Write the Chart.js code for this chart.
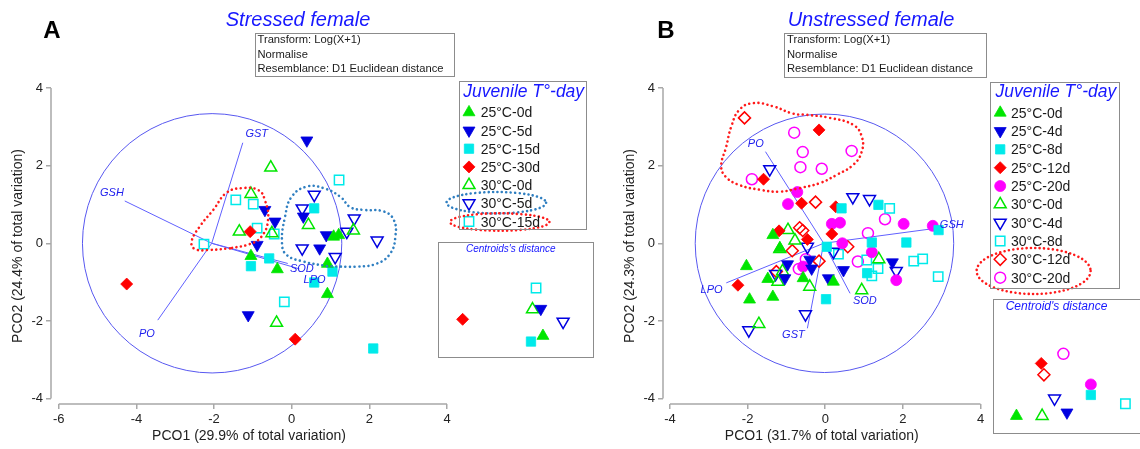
<!DOCTYPE html>
<html>
<head>
<meta charset="utf-8">
<script src="https://cdn.jsdelivr.net/npm/chart.js@4.4.1/dist/chart.umd.min.js"></script>
<style>
  body { margin: 0; background: #fff; }
  #page { position: relative; width: 1140px; height: 449px; overflow: hidden;
          font-family: "Liberation Sans", Arial, sans-serif; }
  canvas, .t, .box { position: absolute; }
  .t { white-space: nowrap; line-height: 1; color: #1a1a1a; }
  .c { transform: translate(-50%, -50%); }
  .l { transform: translateY(-50%); }
  .box { border: 1.5px solid #8c8c8c; box-sizing: border-box; }
  .blue { color: #1717ff; font-style: italic; }
</style>
</head>
<body>
<div id="page">
  <canvas id="chartA" width="600" height="449" style="left:0;top:0"></canvas>
  <canvas id="chartB" width="540" height="449" style="left:600px;top:0"></canvas>

  <div class="box" style="left:255px;top:33px;width:200px;height:44px"></div>
  <div class="box" style="left:784px;top:33px;width:203px;height:45px"></div>
  <div class="box" style="left:459px;top:81px;width:128px;height:149px"></div>
  <div class="box" style="left:990px;top:82px;width:130px;height:207px"></div>
  <div class="box" style="left:438px;top:242px;width:156px;height:116px"></div>
  <div class="box" style="left:993px;top:299px;width:160px;height:135px"></div>

  <canvas id="insetA" width="156" height="116" style="left:438px;top:242px"></canvas>
  <canvas id="insetB" width="147" height="135" style="left:993px;top:299px"></canvas>
</div>
<script>
// ---- axes ----
const xTicksA = [-6, -4, -2, 0, 2, 4];
const xTicksB = [-4, -2, 0, 2, 4];
const yTicks = [-4, -2, 0, 2, 4];

// ---- panel A: stressed female ----
const groupsA = ["25°C-0d", "25°C-5d", "25°C-15d", "25°C-30d", "30°C-0d", "30°C-5d", "30°C-15d"];
const a25c0d = [[-1.05, -0.33], [-0.37, -0.67], [1.08, 0.17], [1.21, 0.21], [0.92, -0.53], [0.92, -1.31]];
const a25c5d = [[-0.69, 0.86], [-0.43, 0.56], [-0.89, -0.04], [-1.12, -1.85], [0.39, 2.65], [0.30, 0.69], [0.89, 0.21], [0.72, -0.13]];
const a25c15d = [[-1.05, -0.59], [-0.58, -0.39], [0.58, 0.90], [1.05, -0.73], [0.58, -1.01], [2.10, -2.71]];
const a25c30d = [[-1.07, 0.30], [-4.25, -1.05], [0.09, -2.47]];
const a30c0d = [[-0.54, 1.95], [-1.05, 1.27], [-1.35, 0.30], [-0.51, 0.26], [0.43, 0.47], [1.59, 0.33], [-0.39, -2.05]];
const a30c5d = [[0.58, 1.25], [0.27, 0.90], [1.61, 0.64], [1.42, 0.30], [2.20, 0.07], [0.27, -0.13], [1.12, -0.35]];
const a30c15d = [[-1.44, 1.12], [-0.99, 1.01], [-0.89, 0.39], [-0.45, 0.24], [-2.26, -0.02], [1.22, 1.63], [-0.19, -1.51]];

const vecNamesA = ["GSH", "GST", "PO", "SOD", "LPO"];
const vecEndA = [[-4.30, 1.09], [-1.26, 2.59], [-3.45, -1.98], [-0.10, -0.52], [0.20, -0.66]];
const vecLabelA = [[-4.63, 1.30], [-0.90, 2.81], [-3.73, -2.34], [0.26, -0.66], [0.59, -0.95]];
const vecOriginA = [-2.06, 0];
const circleA = [-2.05, 0, 3.34]; // centre x, centre y, radius

const hullA15 = [[-1.59, -0.13], [-2.11, -0.17], [-2.49, -0.15], [-2.58, 0.04], [-2.37, 0.43], [-2.02, 0.86],
  [-1.68, 1.30], [-1.29, 1.42], [-0.86, 1.37], [-0.69, 1.11], [-0.61, 0.60], [-0.78, 0.17], [-1.08, -0.02]];
const hullA5 = [[0.91, -0.59], [0.30, -0.47], [-0.13, -0.30], [-0.25, 0.0], [-0.17, 0.69], [0.00, 1.20], [0.39, 1.46],
  [0.82, 1.42], [1.25, 1.20], [1.51, 0.93], [1.85, 0.86], [2.37, 0.82], [2.63, 0.60], [2.67, 0.17], [2.54, -0.26],
  [2.20, -0.52], [1.68, -0.60]];

const centAx = [10.82, 10.58, 9.48, 1.82, 9.65, 13.08, 10.05];
const centAy = [1.60, 4.77, 0.94, 3.54, 4.70, 3.27, 7.20];

// ---- panel B: unstressed female ----
const groupsB = ["25°C-0d", "25°C-4d", "25°C-8d", "25°C-12d", "25°C-20d", "30°C-0d", "30°C-4d", "30°C-8d", "30°C-12d", "30°C-20d"];
const b25c0d = [[-1.35, 0.21], [-1.17, -0.13], [-1.48, -0.92], [-0.57, -0.90], [0.21, -0.99], [-2.03, -0.59], [-1.95, -1.45], [-1.35, -1.38]];
const b25c4d = [[-0.97, -0.54], [-1.04, -0.90], [-0.35, -0.65], [-0.40, -0.42], [0.08, -0.90], [0.47, -0.69], [1.73, -0.49]];
const b25c8d = [[0.42, 0.90], [1.37, 0.99], [2.92, 0.34], [1.20, 0.02], [2.09, 0.02], [0.04, -0.09], [1.08, -0.77], [0.02, -1.44]];
const b25c12d = [[-0.16, 2.92], [-1.59, 1.65], [-0.61, 1.03], [0.27, 0.94], [0.17, 0.24], [-1.19, 0.32], [-0.46, 0.10], [-2.25, -1.08]];
const b25c20d = [[-0.72, 1.32], [-0.96, 1.01], [0.17, 0.50], [0.38, 0.53], [2.02, 0.50], [2.77, 0.45], [0.44, 0.0], [1.20, -0.23], [-0.57, -0.60], [1.83, -0.95]];
const b30c0d = [[-0.96, 0.34], [-0.78, 0.07], [-1.17, -0.15], [-1.22, -0.99], [-1.10, -0.72], [-0.40, -1.12], [0.94, -1.21], [-1.71, -2.08], [1.38, -0.41]];
const b30c4d = [[-1.43, 1.91], [0.71, 1.19], [1.14, 1.14], [-0.46, -0.09], [0.21, -0.22], [-1.28, -0.79], [1.83, -0.71], [-0.51, -1.83], [-1.97, -2.24]];
const b30c8d = [[1.66, 0.90], [0.34, -0.28], [1.07, -0.43], [1.36, -0.65], [1.20, -0.84], [2.28, -0.46], [2.51, -0.40], [2.91, -0.86]];
const b30c12d = [[-2.08, 3.23], [-0.25, 1.06], [-0.66, 0.40], [-0.58, 0.33], [0.58, -0.09], [-0.85, -0.19], [-0.16, -0.46], [-1.26, -0.73]];
const b30c20d = [[-0.80, 2.85], [-0.58, 2.35], [0.68, 2.38], [-0.64, 1.96], [-0.09, 1.92], [-1.89, 1.65], [1.54, 0.62], [1.10, 0.26], [0.84, -0.47], [-0.50, -0.41], [-0.68, -0.66]];

const vecNamesB = ["PO", "GSH", "LPO", "GST", "SOD"];
const vecEndB = [[-1.54, 2.36], [2.88, 0.39], [-2.55, -1.02], [-0.46, -2.19], [0.64, -1.29]];
const vecLabelB = [[-1.79, 2.57], [3.26, 0.47], [-2.93, -1.20], [-0.82, -2.36], [1.02, -1.49]];
const vecOriginB = [-0.04, 0];
const circleB = [-0.02, 0, 3.33];

const hullB = [[-0.65, 1.42], [-1.17, 1.33], [-1.69, 1.38], [-2.21, 1.50], [-2.55, 1.70], [-2.68, 1.98], [-2.55, 2.49],
  [-2.42, 3.01], [-2.21, 3.44], [-1.86, 3.61], [-1.35, 3.53], [-0.83, 3.34], [-0.48, 3.31], [0.12, 3.23], [0.72, 3.05],
  [0.94, 2.75], [0.94, 2.36], [0.72, 2.02], [0.29, 1.76], [-0.14, 1.55]];

const centBx = [1.7, 7.4, 10.1, 4.5, 10.1, 4.6, 6.0, 14.0, 4.8, 7.0];
const centBy = [1.1, 1.5, 3.5, 7.1, 4.7, 1.1, 3.1, 2.5, 5.8, 8.2];

// ---- styles ----
Chart.defaults.font.family = '"Liberation Sans", Arial, sans-serif';
Chart.defaults.color = "#222";

const GREEN = "#00e600", BLUE = "#0000e0", CYAN = "#00eaea", RED = "#ff0000", MAGENTA = "#ff00ff";
const AXIS = "#a8a8a8", VEC = "#6060ff", LABEL = "#2020ee";
const SIZE = { triangle: 6.9, rect: 6.6, rectRot: 6.0, circle: 5.5 };

const mk = (shape, rot, color, filled) => ({ shape, rot, color, filled });
const marksA = [
  mk("triangle", 0, GREEN, true), mk("triangle", 180, BLUE, true), mk("rect", 0, CYAN, true), mk("rectRot", 0, RED, true),
  mk("triangle", 0, GREEN, false), mk("triangle", 180, BLUE, false), mk("rect", 0, CYAN, false)
];
const marksB = [
  mk("triangle", 0, GREEN, true), mk("triangle", 180, BLUE, true), mk("rect", 0, CYAN, true), mk("rectRot", 0, RED, true),
  mk("circle", 0, MAGENTA, true), mk("triangle", 0, GREEN, false), mk("triangle", 180, BLUE, false), mk("rect", 0, CYAN, false),
  mk("rectRot", 0, RED, false), mk("circle", 0, MAGENTA, false)
];

function pointDataset(label, pts, m) {
  return {
    label,
    data: pts.map(p => ({ x: p[0], y: p[1] })),
    pointStyle: m.shape,
    pointRotation: m.rot,
    pointRadius: SIZE[m.shape],
    pointBackgroundColor: m.filled ? m.color : "rgba(0,0,0,0)",
    pointBorderColor: m.color,
    pointBorderWidth: m.filled ? 0.8 : 1.5,
    showLine: false,
    clip: false,
    order: 1
  };
}

function vectorDatasets(origin, ends) {
  return ends.map(e => ({
    data: [{ x: origin[0], y: origin[1] }, { x: e[0], y: e[1] }],
    showLine: true, pointRadius: 0, borderColor: VEC, borderWidth: 1, order: 2, clip: false
  }));
}

function hullDataset(pts, color) {
  return {
    data: pts.concat([pts[0]]).map(p => ({ x: p[0], y: p[1] })),
    showLine: true, pointRadius: 0, borderColor: color, borderWidth: 2.6,
    borderDash: [0.01, 4.6], borderCapStyle: "round", tension: 0.45, order: 0, clip: false
  };
}

function drawMark(ctx, m, x, y) {
  ctx.save();
  ctx.fillStyle = m.filled ? m.color : "rgba(0,0,0,0)";
  ctx.strokeStyle = m.color;
  ctx.lineWidth = m.filled ? 0.8 : 1.5;
  Chart.helpers.drawPoint(ctx, { pointStyle: m.shape, rotation: m.rot, radius: SIZE[m.shape], borderWidth: ctx.lineWidth }, x, y);
  ctx.restore();
}

function dottedEllipse(ctx, cx, cy, rx, ry, color) {
  ctx.save();
  ctx.strokeStyle = color;
  ctx.lineWidth = 2.6;
  ctx.lineCap = "round";
  ctx.setLineDash([0.01, 4.4]);
  ctx.beginPath();
  ctx.ellipse(cx, cy, rx, ry, 0, 0, Math.PI * 2);
  ctx.stroke();
  ctx.restore();
}

function extras(cfg) {
  return {
    id: "pcoExtras",
    beforeDatasetsDraw(chart) {
      const { ctx, chartArea, scales: { x, y } } = chart;
      ctx.save();
      ctx.strokeStyle = AXIS;
      ctx.lineWidth = 1.5;
      ctx.beginPath();
      ctx.moveTo(chartArea.left, y.getPixelForValue(yTicks[yTicks.length - 1]));
      ctx.lineTo(chartArea.left, y.getPixelForValue(yTicks[0]));
      ctx.moveTo(x.getPixelForValue(cfg.xTicks[0]), chartArea.bottom);
      ctx.lineTo(x.getPixelForValue(cfg.xTicks[cfg.xTicks.length - 1]), chartArea.bottom);
      ctx.stroke();
      const cx = x.getPixelForValue(cfg.circle[0]);
      const cy = y.getPixelForValue(cfg.circle[1]);
      const r = x.getPixelForValue(cfg.circle[0] + cfg.circle[2]) - cx;
      ctx.strokeStyle = "#5858f0";
      ctx.lineWidth = 1;
      ctx.beginPath();
      ctx.arc(cx, cy, r, 0, Math.PI * 2);
      ctx.stroke();
      ctx.restore();
    },
    afterDatasetsDraw(chart) {
      const { ctx, scales: { x, y } } = chart;
      ctx.save();
      ctx.fillStyle = LABEL;
      ctx.font = "italic 11px 'Liberation Sans', Arial, sans-serif";
      ctx.textAlign = "center";
      ctx.textBaseline = "middle";
      cfg.vecNames.forEach((n, i) => {
        ctx.fillText(n, x.getPixelForValue(cfg.vecLabels[i][0]), y.getPixelForValue(cfg.vecLabels[i][1]));
      });
      ctx.restore();
      cfg.marks.forEach((m, i) => drawMark(ctx, m, cfg.legendX, cfg.legendY + i * cfg.legendStep));
      cfg.ellipses.forEach(e => dottedEllipse(ctx, e[0], e[1], e[2], e[3], e[4]));
    }
  };
}

function axisX(min, max, ticks, title) {
  return {
    type: "linear", min, max,
    afterBuildTicks: s => { s.ticks = ticks.map(v => ({ value: v })); },
    grid: { drawOnChartArea: false, drawTicks: true, tickLength: 5, color: AXIS, lineWidth: 1.5 },
    border: { display: false },
    ticks: { font: { size: 13 }, padding: 3, color: "#222", maxRotation: 0, autoSkip: false },
    title: { display: true, text: title, font: { size: 14 }, color: "#222", padding: { top: 0, bottom: 4 } },
    afterFit: s => { s.height = 45; }
  };
}

function axisY(width, title, titlePad) {
  return {
    type: "linear", min: -4.14, max: 4,
    afterBuildTicks: s => { s.ticks = yTicks.map(v => ({ value: v })); },
    grid: { drawOnChartArea: false, drawTicks: true, tickLength: 5, color: AXIS, lineWidth: 1.5 },
    border: { display: false },
    ticks: { font: { size: 13 }, padding: 3, color: "#222", autoSkip: false },
    title: { display: true, text: title, font: { size: 14 }, color: "#222", padding: { top: titlePad, bottom: 0 } },
    afterFit: s => { s.width = width; }
  };
}

function baseOptions(padRight, xAxis, yAxis) {
  return {
    responsive: false, animation: false, events: [],
    layout: { padding: { left: 0, top: 88, right: padRight, bottom: 0 } },
    plugins: { legend: { display: false }, tooltip: { enabled: false } },
    scales: { x: xAxis, y: yAxis }
  };
}

const seriesA = [a25c0d, a25c5d, a25c15d, a25c30d, a30c0d, a30c5d, a30c15d];
const seriesB = [b25c0d, b25c4d, b25c8d, b25c12d, b25c20d, b30c0d, b30c4d, b30c8d, b30c12d, b30c20d];

new Chart(document.getElementById("chartA"), {
  type: "scatter",
  data: {
    datasets: [
      hullDataset(hullA15, "#ff1a1a"),
      hullDataset(hullA5, "#2f7fc1"),
      ...seriesA.map((s, i) => pointDataset(groupsA[i], s, marksA[i])),
      ...vectorDatasets(vecOriginA, vecEndA)
    ]
  },
  options: baseOptions(153,
    axisX(-6.2, 4, xTicksA, "PCO1 (29.9% of total variation)"),
    axisY(51, "PCO2 (24.4% of total variation)", 9.8)),
  plugins: [extras({
    xTicks: xTicksA, circle: circleA, vecNames: vecNamesA, vecLabels: vecLabelA,
    marks: marksA, legendX: 469, legendY: 112.3, legendStep: 18.2,
    ellipses: [[496.3, 202.7, 49.8, 10.7, "#2f7fc1"], [499.7, 222, 49.7, 8.7, "#ff1a1a"]]
  })]
});

new Chart(document.getElementById("chartB"), {
  type: "scatter",
  data: {
    datasets: [
      hullDataset(hullB, "#ff1a1a"),
      ...seriesB.map((s, i) => pointDataset(groupsB[i], s, marksB[i])),
      ...vectorDatasets(vecOriginB, vecEndB)
    ]
  },
  options: baseOptions(159.5,
    axisX(-4.18, 4, xTicksB, "PCO1 (31.7% of total variation)"),
    axisY(63, "PCO2 (24.3% of total variation)", 21.6)),
  plugins: [extras({
    xTicks: xTicksB, circle: circleB, vecNames: vecNamesB, vecLabels: vecLabelB,
    marks: marksB, legendX: 400.2, legendY: 112.7, legendStep: 18.33,
    ellipses: [[433.6, 271, 57, 23, "#ff1a1a"]]
  })]
});

function insetChart(id, xs, ys, groups, marks, xMax, yMax) {
  new Chart(document.getElementById(id), {
    type: "scatter",
    data: { datasets: xs.map((v, i) => pointDataset(groups[i], [[v, ys[i]]], marks[i])) },
    options: {
      responsive: false, animation: false, events: [],
      layout: { padding: 0 },
      plugins: { legend: { display: false }, tooltip: { enabled: false } },
      scales: {
        x: { type: "linear", display: false, min: 0, max: xMax },
        y: { type: "linear", display: false, min: 0, max: yMax }
      }
    }
  });
}
insetChart("insetA", centAx, centAy, groupsA, marksA, 15.6, 11.6);
insetChart("insetB", centBx, centBy, groupsB, marksB, 14.7, 13.5);

// ---- text ----
const page = document.getElementById("page");
function addText(text, x, y, cls, style) {
  const d = document.createElement("div");
  d.className = "t " + cls;
  d.textContent = text;
  d.style.left = x + "px";
  d.style.top = y + "px";
  Object.assign(d.style, style || {});
  page.appendChild(d);
}

addText("A", 52, 30, "c", { fontSize: "24px", fontWeight: "bold", color: "#000" });
addText("B", 666, 30, "c", { fontSize: "24px", fontWeight: "bold", color: "#000" });
addText("Stressed female", 298, 19, "c blue", { fontSize: "20px" });
addText("Unstressed female", 871, 19, "c blue", { fontSize: "20px" });

const infoLines = ["Transform: Log(X+1)", "Normalise", "Resemblance: D1 Euclidean distance"];
infoLines.forEach((s, i) => {
  addText(s, 257.5, 40 + i * 14.5, "l", { fontSize: "11.2px" });
  addText(s, 787, 40 + i * 14.5, "l", { fontSize: "11.2px" });
});

addText("Juvenile T°-day", 463.3, 91.7, "l blue", { fontSize: "17.5px" });
groupsA.forEach((g, i) => addText(g, 480.7, 112.3 + i * 18.2, "l", { fontSize: "14px" }));
addText("Juvenile T°-day", 995.5, 91.7, "l blue", { fontSize: "17.5px" });
groupsB.forEach((g, i) => addText(g, 1011, 112.7 + i * 18.33, "l", { fontSize: "14px" }));

addText("Centroids's distance", 510.8, 249.3, "c blue", { fontSize: "10px" });
addText("Centroid's distance", 1056.5, 306, "c blue", { fontSize: "12px" });
</script>
</body>
</html>
